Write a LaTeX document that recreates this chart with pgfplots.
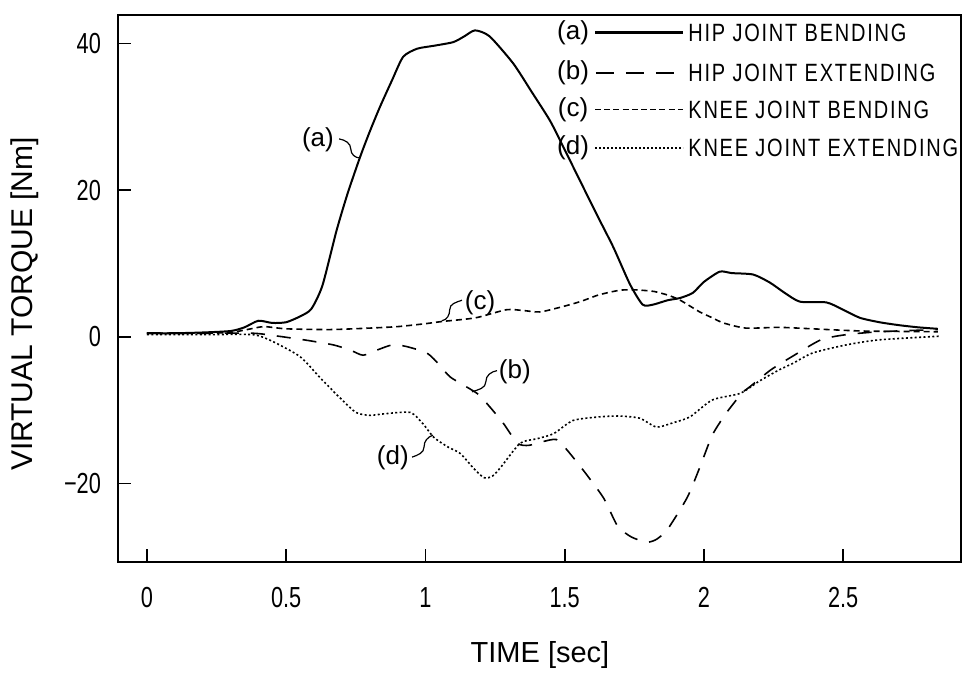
\documentclass[border=0pt]{standalone}
\usepackage{fontspec}
\setmainfont{Liberation Sans}
\newfontfamily\tickfont[FakeStretch=0.75]{Liberation Sans}
\newfontfamily\legfont[FakeStretch=0.8, LetterSpace=7]{Liberation Sans}
\usepackage{pgfplots}
\pgfplotsset{compat=1.18}

% solid: hip joint bending
\pgfplotstableread{
t v
0 0.5
0.1 0.5
0.2 0.6
0.3 0.8
0.35 1.3
0.40 2.2
0.45 1.9
0.50 2.0
0.55 2.8
0.59 3.8
0.63 7
0.68 14.4
0.72 19.5
0.765 24.5
0.80 28
0.837 31.4
0.88 35
0.92 38.2
0.97 39.3
1.03 39.7
1.10 40.2
1.14 41
1.178 41.8
1.23 41
1.315 37.3
1.38 33.5
1.447 29.5
1.495 25.9
1.555 21.3
1.615 16.7
1.675 12.2
1.734 7.2
1.78 4.4
1.817 4.4
1.87 5.0
1.914 5.3
1.96 6
2.0 7.5
2.057 8.9
2.10 8.7
2.177 8.5
2.237 7.4
2.29 6
2.345 4.8
2.44 4.7
2.50 3.7
2.56 2.6
2.63 2.0
2.70 1.6
2.77 1.3
2.84 1.1
}\hipbend

% long dash: hip joint extending
\pgfplotstableread{
t v
0 0.5
0.2 0.5
0.38 0.5
0.45 0.2
0.49 0
0.58 -0.5
0.67 -1.1
0.73 -1.8
0.776 -2.5
0.826 -1.8
0.88 -1.1
0.93 -1.3
1.005 -2.2
1.05 -3.8
1.09 -5.5
1.185 -7.7
1.23 -9.5
1.28 -11.8
1.33 -14.5
1.37 -14.8
1.42 -14.3
1.47 -14.0
1.51 -15.5
1.573 -18.5
1.64 -22
1.69 -25.8
1.74 -27.3
1.795 -28
1.83 -27.6
1.87 -26.2
1.94 -21.9
1.985 -17.8
2.03 -13.4
2.08 -10.4
2.14 -7.5
2.165 -6.8
2.24 -4.5
2.32 -2.6
2.42 -0.4
2.51 0.3
2.63 0.7
2.84 1.0
}\hipext

% short dash: knee joint bending
\pgfplotstableread{
t v
0 0.5
0.2 0.5
0.3 0.6
0.36 1.0
0.42 1.4
0.5 1.1
0.66 1.0
0.8 1.2
0.9 1.4
1.0 1.8
1.06 2.1
1.18 2.6
1.29 3.7
1.35 3.6
1.41 3.4
1.48 4.0
1.555 4.8
1.62 5.7
1.675 6.2
1.71 6.4
1.76 6.4
1.82 6.2
1.87 5.7
1.91 5.1
1.95 4.2
1.985 3.4
2.03 2.6
2.07 1.9
2.15 1.2
2.27 1.3
2.39 1.1
2.57 0.8
2.84 0.7
}\kneebend

% dotted: knee joint extending
\pgfplotstableread{
t v
0 0.3
0.2 0.3
0.38 0.3
0.45 -0.6
0.55 -2.7
0.62 -5.5
0.69 -8.2
0.75 -10.3
0.80 -10.7
0.85 -10.5
0.945 -10.3
0.99 -11.8
1.03 -13.7
1.08 -15.0
1.125 -15.9
1.17 -17.8
1.21 -19.2
1.24 -19.0
1.27 -17.8
1.34 -14.5
1.40 -13.9
1.46 -13.2
1.53 -11.4
1.627 -10.9
1.70 -10.8
1.77 -11.1
1.83 -12.3
1.89 -11.7
1.95 -10.9
2.03 -8.6
2.13 -7.7
2.2 -6.0
2.27 -4.5
2.32 -3.6
2.39 -2.2
2.51 -1.1
2.63 -0.4
2.85 0.1
}\kneeext

\begin{document}
\begin{tikzpicture}
\begin{axis}[
  name=ax,
  at={(0,0)}, anchor=south west,
  scale only axis,
  width=421.5pt, height=273.5pt,
  xmin=-0.104, xmax=2.923,
  ymin=-30.7, ymax=43.9,
  axis line style={line width=1pt},
  tick align=inside,
  tick pos=left,
  major tick length=6.5pt,
  tick style={black, line width=0.9pt},
  xtick={0,0.5,1,1.5,2,2.5},
  xticklabels={0,0.5,1,1.5,2,2.5},
  ytick={-20,0,20,40},
  yticklabels={−20,0,20,40},
  ticklabel style={font=\tickfont\fontsize{14.5}{16}\selectfont},
  xticklabel style={yshift=-9pt},
  yticklabel style={xshift=-5pt},
  xlabel={TIME [sec]},
  ylabel={VIRTUAL TORQUE [Nm]},
  every axis x label/.style={at={(axis description cs:0.5006,-0.170)}, anchor=center, font=\fontsize{14.5}{16}\selectfont},
  every axis y label/.style={at={(axis description cs:-0.1103,0.4717)}, anchor=center, rotate=90, font=\fontsize{15}{16}\selectfont},
  every axis plot/.append style={black, smooth, tension=0.4},
  clip=false,
]
\addplot[line width=1pt] table[x=t, y=v] {\hipbend};
\addplot[line width=0.8pt, dash pattern=on 7pt off 6pt] table[x=t, y=v] {\hipext};
\addplot[line width=0.8pt, dash pattern=on 3pt off 2pt] table[x=t, y=v] {\kneebend};
\addplot[line width=0.8pt, dash pattern=on 1pt off 1.2pt] table[x=t, y=v] {\kneeext};

% legend
\begin{scope}[every node/.style={font=\fontsize{13}{14}\selectfont, inner sep=0pt}]
\node at (axis cs:1.53,41.5) {(a)};
\node at (axis cs:1.53,36.0) {(b)};
\node at (axis cs:1.53,31.0) {(c)};
\node at (axis cs:1.53,25.8) {(d)};
\end{scope}
\draw[line width=1.1pt] (axis cs:1.609,41.5) -- (axis cs:1.925,41.5);
\draw[line width=1.4pt, dash pattern=on 9pt off 6pt] (axis cs:1.612,36.0) -- (axis cs:1.925,36.0);
\draw[line width=0.9pt, dash pattern=on 3pt off 1.6pt] (axis cs:1.609,31.0) -- (axis cs:1.925,31.0);
\draw[line width=0.9pt, dash pattern=on 1pt off 1pt] (axis cs:1.609,25.8) -- (axis cs:1.925,25.8);
\begin{scope}[every node/.style={font=\legfont\fontsize{12.5}{14}\selectfont, anchor=west, inner sep=0pt}]
\node at (axis cs:1.943,41.5) {HIP JOINT BENDING};
\node at (axis cs:1.943,36.0) {HIP JOINT EXTENDING};
\node at (axis cs:1.943,31.0) {KNEE JOINT BENDING};
\node at (axis cs:1.943,25.8) {KNEE JOINT EXTENDING};
\end{scope}

% curve labels
\begin{scope}[every node/.style={font=\fontsize{13}{14}\selectfont, inner sep=0pt}]
\node at (axis cs:0.614,26.9) {(a)};
\node at (axis cs:1.321,-4.8) {(b)};
\node at (axis cs:1.196,4.6) {(c)};
\node at (axis cs:0.883,-16.5) {(d)};
\end{scope}
\draw[line width=0.6pt] (axis cs:0.69,27.0) to[out=-10,in=90] (axis cs:0.732,25.6) to[out=-90,in=180] (axis cs:0.765,24.4);
\draw[line width=0.6pt] (axis cs:1.257,-4.6) to[out=190,in=90] (axis cs:1.217,-6.1) to[out=-90,in=20] (axis cs:1.167,-7.5);
\draw[line width=0.6pt] (axis cs:1.131,5.0) to[out=200,in=90] (axis cs:1.087,3.7) to[out=-90,in=10] (axis cs:1.059,2.2);
\draw[line width=0.6pt] (axis cs:0.952,-16.4) to[out=20,in=-90] (axis cs:0.995,-15.0) to[out=90,in=200] (axis cs:1.027,-13.4);
\end{axis}
\pgfresetboundingbox
\path[use as bounding box] (-59pt,-55.5pt) rectangle (423.5pt,281pt);
\end{tikzpicture}
\end{document}
